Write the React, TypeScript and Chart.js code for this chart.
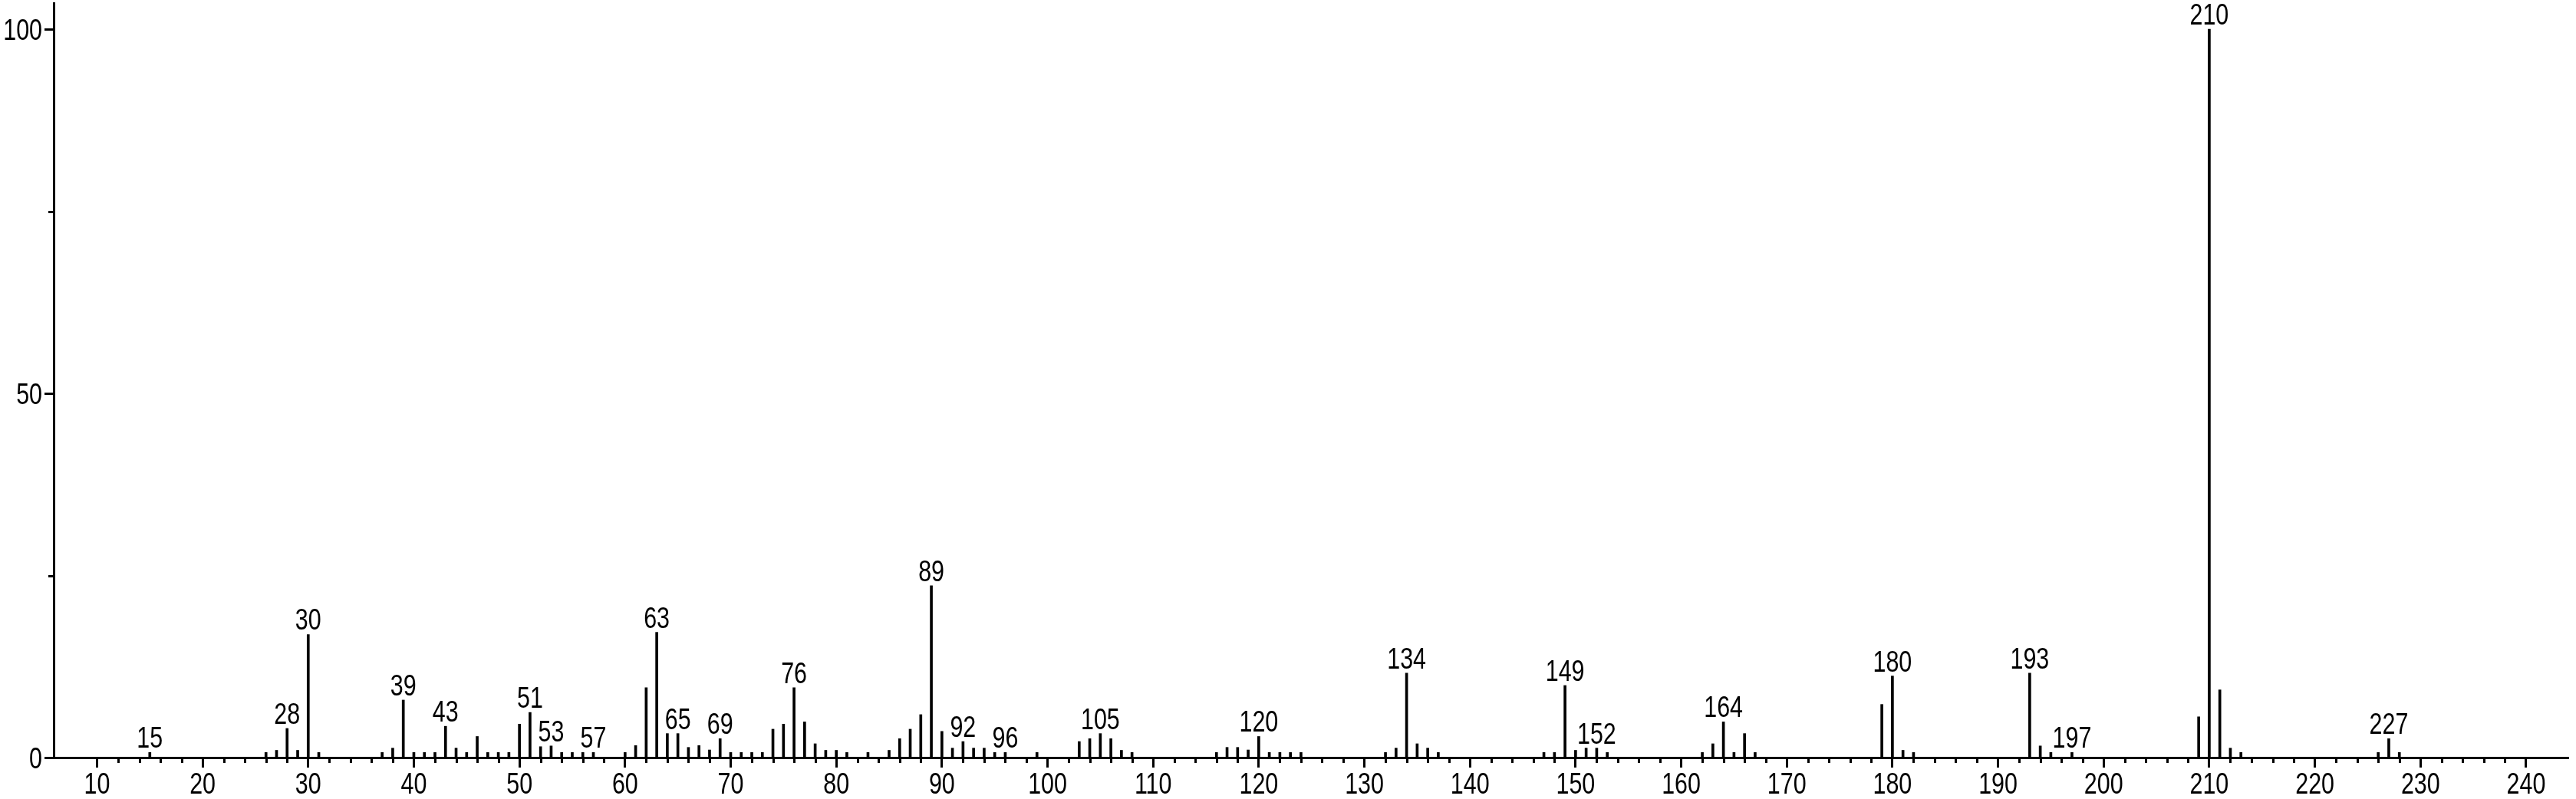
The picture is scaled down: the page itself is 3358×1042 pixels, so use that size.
import React, { useEffect, useRef } from "react";
import { Chart, registerables } from "chart.js";

Chart.register(...registerables);

// m/z values and relative intensities (%)
const MZ = [
  15, 26, 27, 28, 29, 30, 31, 37, 38, 39, 40, 41, 42, 43, 44, 45, 46, 47, 48, 49,
  50, 51, 52, 53, 54, 55, 56, 57, 60, 61, 62, 63, 64, 65, 66, 67, 68, 69, 70, 71,
  72, 73, 74, 75, 76, 77, 78, 79, 80, 81, 83, 85, 86, 87, 88, 89, 90, 91, 92, 93,
  94, 95, 96, 99, 103, 104, 105, 106, 107, 108, 116, 117, 118, 119, 120, 121, 122, 123, 124, 132,
  133, 134, 135, 136, 137, 147, 148, 149, 150, 151, 152, 153, 162, 163, 164, 165, 166, 167, 179, 180,
  181, 182, 193, 194, 195, 197, 209, 210, 211, 212, 213, 226, 227, 228,
];
const INTENSITY = [
  0.7, 0.7, 1.0, 4.0, 1.0, 16.9, 0.7, 0.7, 1.3, 7.9, 0.7, 0.7, 0.7, 4.3, 1.3, 0.7, 2.9, 0.7, 0.7, 0.7,
  4.6, 6.2, 1.5, 1.6, 0.7, 0.7, 0.7, 0.7, 0.7, 1.65, 9.6, 17.2, 3.3, 3.3, 1.4, 1.65, 1.05, 2.6, 0.7, 0.7,
  0.7, 0.7, 3.9, 4.6, 9.6, 4.9, 1.9, 1.0, 1.0, 0.7, 0.7, 1.0, 2.6, 3.9, 5.9, 23.6, 3.6, 1.3, 2.2, 1.3,
  1.3, 0.7, 0.7, 0.7, 2.2, 2.6, 3.3, 2.6, 1.0, 0.7, 0.7, 1.4, 1.4, 1.05, 2.9, 0.7, 0.7, 0.7, 0.7, 0.7,
  1.3, 11.6, 1.9, 1.3, 0.7, 0.7, 0.7, 9.9, 1.0, 1.3, 1.3, 0.7, 0.7, 1.9, 4.9, 0.7, 3.3, 0.7, 7.3, 11.2,
  1.0, 0.7, 11.6, 1.6, 0.7, 0.7, 5.6, 100, 9.3, 1.3, 0.7, 0.7, 2.6, 0.7,
];
const LABELED_MZ = [
  15, 28, 30, 39, 43, 51, 53, 57, 63, 65, 69, 76, 89, 92, 96, 105, 120, 134, 149, 152,
  164, 180, 193, 197, 210, 227,
];
const X_MAJOR_TICKS = [10, 20, 30, 40, 50, 60, 70, 80, 90, 100, 110, 120, 130, 140, 150, 160, 170, 180, 190, 200, 210, 220, 230, 240];
const X_MINOR_TICKS = [
  12, 14, 16, 18, 22, 24, 26, 28, 32, 34, 36, 38, 42, 44, 46, 48, 52, 54, 56, 58, 62, 64, 66, 68,
  72, 74, 76, 78, 82, 84, 86, 88, 92, 94, 96, 98, 102, 104, 106, 108, 112, 114, 116, 118,
  122, 124, 126, 128, 132, 134, 136, 138, 142, 144, 146, 148, 152, 154, 156, 158, 162, 164, 166, 168,
  172, 174, 176, 178, 182, 184, 186, 188, 192, 194, 196, 198, 202, 204, 206, 208, 212, 214, 216, 218,
  222, 224, 226, 228, 232, 234, 236, 238,
];
const Y_MAJOR_TICKS = [0, 50, 100];
const Y_MINOR_TICKS = [25, 75];

const FONT_FAMILY = "'Liberation Sans', Arial, sans-serif";
const FONT_SIZE = 39;
const NARROW = 0.78;

function drawNarrowText(ctx: any, text: string, x: number, y: number, align: "left" | "center" | "right") {
  ctx.save();
  ctx.translate(x, y);
  ctx.scale(NARROW, 1);
  ctx.textAlign = align;
  ctx.textBaseline = "alphabetic";
  ctx.fillText(text, 0, 0);
  ctx.restore();
}

const extrasPlugin = {
  id: "msExtras",
  afterDraw(chart: any) {
    const ctx = chart.ctx;
    const xs = chart.scales.x;
    const ys = chart.scales.y;
    const area = chart.chartArea;
    ctx.save();
    ctx.strokeStyle = "#000";
    ctx.lineWidth = 3;
    ctx.beginPath();
    for (const v of X_MINOR_TICKS) {
      const px = Math.round(xs.getPixelForValue(v)) + 0.5;
      ctx.moveTo(px, area.bottom);
      ctx.lineTo(px, area.bottom + 7);
    }
    for (const v of Y_MINOR_TICKS) {
      const py = Math.round(ys.getPixelForValue(v)) + 0.5;
      ctx.moveTo(area.left, py);
      ctx.lineTo(area.left - 7, py);
    }
    ctx.stroke();
    ctx.fillStyle = "#000";
    ctx.font = `${FONT_SIZE}px ${FONT_FAMILY}`;
    // x tick labels
    for (const v of X_MAJOR_TICKS) {
      drawNarrowText(ctx, String(v), xs.getPixelForValue(v), area.bottom + 47, "center");
    }
    // y tick labels
    for (const v of Y_MAJOR_TICKS) {
      drawNarrowText(ctx, String(v), area.left - 15, ys.getPixelForValue(v) + 14, "right");
    }
    // peak labels
    for (const m of LABELED_MZ) {
      const i = MZ.indexOf(m);
      if (i < 0) continue;
      const px = xs.getPixelForValue(m);
      const py = ys.getPixelForValue(INTENSITY[i]);
      drawNarrowText(ctx, String(m), px, py - 6, "center");
    }
    ctx.restore();
  },
};

export default function App() {
  const ref = useRef<HTMLCanvasElement | null>(null);
  useEffect(() => {
    if (!ref.current) return;
    const chart = new Chart(ref.current, {
      type: "bar",
      data: {
        datasets: [
          {
            data: MZ.map((m, i) => ({ x: m, y: INTENSITY[i] })),
            backgroundColor: "#000",
            borderWidth: 0,
            barThickness: 3,
          },
        ],
      },
      options: {
        animation: false,
        responsive: false,
        maintainAspectRatio: false,
        layout: { padding: { top: 4, right: 10, left: 0, bottom: 0 } },
        plugins: { legend: { display: false }, tooltip: { enabled: false }, title: { display: false } },
        scales: {
          x: {
            type: "linear",
            offset: false,
            min: 5.9,
            max: 244,
            afterBuildTicks: (s: any) => {
              s.ticks = X_MAJOR_TICKS.map((v) => ({ value: v }));
            },
            afterFit: (s: any) => {
              s.height = 54;
            },
            ticks: { display: false, autoSkip: false, maxRotation: 0 },
            grid: { offset: false, drawOnChartArea: false, drawTicks: true, tickLength: 13, tickWidth: 3, tickColor: "#000" },
            border: { display: true, color: "#000", width: 3 },
          },
          y: {
            type: "linear",
            min: 0,
            max: 103.6,
            afterBuildTicks: (s: any) => {
              s.ticks = Y_MAJOR_TICKS.map((v) => ({ value: v }));
            },
            afterFit: (s: any) => {
              s.width = 70;
            },
            ticks: { display: false, autoSkip: false },
            grid: { drawOnChartArea: false, drawTicks: true, tickLength: 12, tickWidth: 3, tickColor: "#000" },
            border: { display: true, color: "#000", width: 3 },
          },
        },
      },
      plugins: [extrasPlugin],
    });
    return () => chart.destroy();
  }, []);
  return (
    <div style={{ position: "fixed", left: 0, top: 0, width: 3358, height: 1042, background: "#fff" }}>
      <canvas ref={ref} width={3358} height={1042} style={{ width: 3358, height: 1042, display: "block" }} />
    </div>
  );
}
